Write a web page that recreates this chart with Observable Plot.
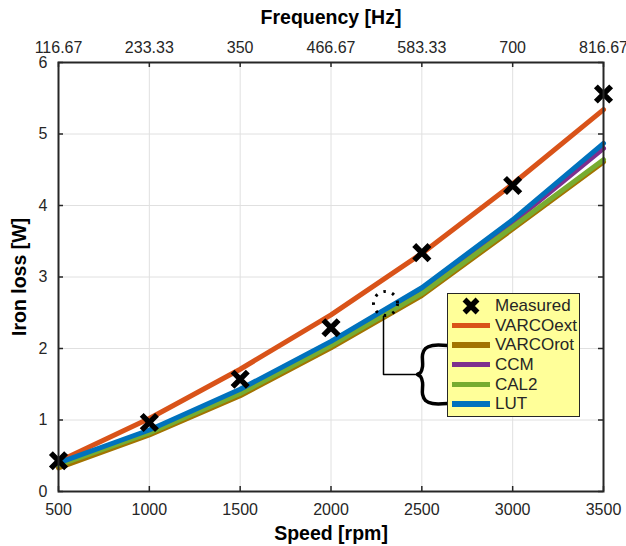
<!DOCTYPE html>
<html>
<head>
<meta charset="utf-8">
<script src="https://cdn.jsdelivr.net/npm/d3@7"></script>
<script src="https://cdn.jsdelivr.net/npm/@observablehq/plot@0.6"></script>
<style>
  body { margin: 0; background: #fff; font-family: "Liberation Sans", Arial, Helvetica, sans-serif; }
  #wrap { position: relative; width: 626px; height: 546px; }
  #legend { position: absolute; left: 447px; top: 293px; width: 133px; height: 124px; box-sizing: border-box;
            background: #ffff99; border: 1px solid #262626; }
  .row { position: absolute; left: 0; height: 20px; width: 131px; }
  .sw { position: absolute; left: 4px; top: 7px; width: 38px; height: 5.5px; }
  .lab { position: absolute; left: 47px; top: 0; line-height: 20px; font-size: 17px; color: #262626; white-space: nowrap; }
</style>
</head>
<body>
<div id="wrap"><div id="chart"></div><div id="legend"></div></div>
<script>
// ---- data ----
const speed = [500, 1000, 1500, 2000, 2500, 3000, 3500];
const freqLabels = ["116.67", "233.33", "350", "466.67", "583.33", "700", "816.67"];
const yTicks = [0, 1, 2, 3, 4, 5, 6];
const measured = [0.43, 0.965, 1.57, 2.29, 3.34, 4.28, 5.56];
const varcoExt = [0.42, 1.02, 1.71, 2.47, 3.33, 4.30, 5.34];
const varcoRot = [0.33, 0.79, 1.34, 2.01, 2.74, 3.67, 4.61];
const ccm      = [0.39, 0.84, 1.40, 2.08, 2.82, 3.76, 4.80];
const cal2     = [0.37, 0.82, 1.37, 2.04, 2.77, 3.70, 4.64];
const lut      = [0.40, 0.86, 1.43, 2.10, 2.85, 3.80, 4.87];
const seriesNames  = ["VARCOext", "VARCOrot", "CCM", "CAL2", "LUT"];
const seriesValues = [varcoExt, varcoRot, ccm, cal2, lut];
const seriesColors = ["#D95319", "#A27400", "#7E2F8E", "#77AC30", "#0072BD"];
// annotation (data units: speed rpm, loss W)
const zoomCircle = [{x: 2300, y: 2.63}];
const connector = [{x: 2289, y: 2.45}, {x: 2289, y: 1.636}, {x: 2476, y: 1.636}];
const brace = [
  {x: 2641, y: 2.042}, {x: 2559, y: 2.042}, {x: 2520, y: 2.0}, {x: 2504, y: 1.916},
  {x: 2504, y: 1.748}, {x: 2493, y: 1.664}, {x: 2476, y: 1.636}, {x: 2493, y: 1.608},
  {x: 2504, y: 1.524}, {x: 2504, y: 1.357}, {x: 2520, y: 1.273}, {x: 2559, y: 1.231},
  {x: 2641, y: 1.231}
];

const rows = (vals) => speed.map((s, i) => ({x: s, y: vals[i]}));
const ink = "#262626";
const innerH = 546 - 62 - 55, innerW = 626 - 58 - 23;
const tk = 5;
const fs = 16;

const chart = Plot.plot({
  width: 626, height: 546,
  marginLeft: 58, marginRight: 23, marginTop: 62, marginBottom: 55,
  style: {fontFamily: "'Liberation Sans', Arial, Helvetica, sans-serif", fontSize: "16px", color: ink, background: "white"},
  x: {domain: [500, 3500]},
  y: {domain: [0, 6]},
  marks: [
    Plot.gridX(speed, {stroke: "#e0e0e0", strokeOpacity: 1, strokeWidth: 1}),
    Plot.gridY(yTicks, {stroke: "#e0e0e0", strokeOpacity: 1, strokeWidth: 1}),
    ...seriesValues.map((v, i) => Plot.line(rows(v), {x: "x", y: "y", stroke: seriesColors[i], strokeWidth: 5})),
    Plot.dot(rows(measured), {x: "x", y: "y", symbol: "times", r: 7, stroke: "black", strokeWidth: 5.5}),
    Plot.dot(zoomCircle, {x: "x", y: "y", r: 12, stroke: "black", strokeWidth: 3, strokeDasharray: "2.5,6.5", fill: "none"}),
    Plot.line(connector, {x: "x", y: "y", stroke: "black", strokeWidth: 1.5}),
    Plot.line(brace, {x: "x", y: "y", stroke: "black", strokeWidth: 3.5, curve: "catmull-rom"}),
    // inward ticks
    Plot.tickX(speed, {x: d => d, insetTop: innerH - tk, stroke: ink, strokeWidth: 1.5}),
    Plot.tickX(speed, {x: d => d, insetBottom: innerH - tk, stroke: ink, strokeWidth: 1.5}),
    Plot.tickY(yTicks, {y: d => d, insetRight: innerW - tk, stroke: ink, strokeWidth: 1.5}),
    Plot.tickY(yTicks, {y: d => d, insetLeft: innerW - tk, stroke: ink, strokeWidth: 1.5}),
    Plot.frame({stroke: ink, strokeWidth: 2}),
    Plot.axisX(speed, {anchor: "bottom", tickSize: 0, tickPadding: 12, label: null, fontSize: fs, tickFormat: d => String(d)}),
    Plot.axisX(speed, {anchor: "top", tickSize: 0, tickPadding: 10, label: null, fontSize: fs, tickFormat: d => freqLabels[speed.indexOf(d)]}),
    Plot.axisY(yTicks, {anchor: "left", tickSize: 0, tickPadding: 11, label: null, fontSize: fs, tickFormat: d => String(d)}),
    Plot.text(["Speed [rpm]"], {frameAnchor: "bottom", dy: 42, textAnchor: "middle", lineAnchor: "middle", fontWeight: "bold", fontSize: 19.5, fill: "black"}),
    Plot.text(["Frequency [Hz]"], {frameAnchor: "top", dy: -45, textAnchor: "middle", lineAnchor: "middle", fontWeight: "bold", fontSize: 19.5, fill: "black"}),
    Plot.text(["Iron loss [W]"], {frameAnchor: "left", dx: -39, rotate: -90, textAnchor: "middle", lineAnchor: "middle", fontWeight: "bold", fontSize: 19.5, fill: "black"})
  ]
});
document.getElementById("chart").appendChild(chart);

// legend
const legend = d3.select("#legend");
const items = [{name: "Measured", marker: true}].concat(seriesNames.map((n, i) => ({name: n, color: seriesColors[i]})));
items.forEach((it, i) => {
  const row = legend.append("div").attr("class", "row").style("top", (2.3 + i * 19.55) + "px");
  if (it.marker) {
    const s = row.append("svg").attr("width", 20).attr("height", 20)
      .style("position", "absolute").style("left", "13px").style("top", "0px");
    s.append("path").attr("d", "M3.5,3.5L16.5,16.5M16.5,3.5L3.5,16.5")
      .attr("stroke", "black").attr("stroke-width", 5.5).attr("fill", "none");
  } else {
    row.append("div").attr("class", "sw").style("background", it.color);
  }
  row.append("div").attr("class", "lab").text(it.name);
});
</script>
</body>
</html>
